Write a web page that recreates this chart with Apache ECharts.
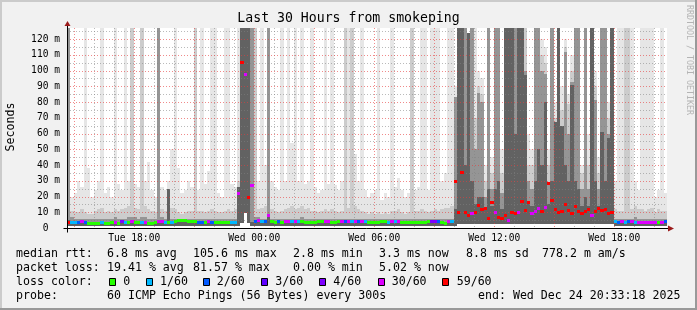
<!DOCTYPE html>
<html><head><meta charset="utf-8">
<script src="https://cdn.jsdelivr.net/npm/echarts@6/dist/echarts.min.js"></script>
<style>html,body{margin:0;padding:0;background:#f1f1f1}#c{width:697px;height:310px}</style>
</head><body><div id="c"></div>
<script>
// ---- time frame (hours since Tue 00:00) ----
const START_HOUR = 14.64;      // Tue 14:38
const SPAN_HOURS = 30;
const STEP_HOURS = 1 / 6;      // one column per 10 minutes
const Y_MAX = 127;             // ms

const X_LABEL_HOURS = [18, 24, 30, 36, 42];
const X_LABELS = ['Tue 18:00', 'Wed 00:00', 'Wed 06:00', 'Wed 12:00', 'Wed 18:00'];
const Y_LABEL_VALUES = [0, 10, 20, 30, 40, 50, 60, 70, 80, 90, 100, 110, 120];
const V_MAJOR_HOURS = [15, 18, 21, 24, 27, 30, 33, 36, 39, 42];
const V_MINOR_HOURS = [16, 17, 19, 20, 22, 23, 25, 26, 28, 29, 31, 32, 34, 35, 37, 38, 40, 41, 43, 44];
const H_MAJOR = [10, 20, 30, 40, 50, 60, 70, 80, 90, 100, 110, 120];
const H_MINOR = [5, 15, 25, 35, 45, 55, 65, 75, 85, 95, 105, 115, 125];

// ---- smoke: lower edge and four nested upper edges (ms) ----
const SMOKE_LO = [
1.2,1.2,1.2,1.2,1.2,1.2,1.2,1.2,1.2,1.2,
1.2,1.2,1.2,1.2,1.2,1.2,1.2,1.2,1.2,1.2,
1.2,1.2,1.2,1.2,1.2,1.2,1.2,1.2,1.2,1.2,
1.2,1.2,1.2,1.2,1.2,1.2,1.2,1.2,1.2,1.2,
1.2,1.2,1.2,1.2,1.2,1.2,1.2,1.2,1.2,1.2,
1.2,1.2,3,9.5,3,1.2,1.2,1.2,1.2,1.2,
1.2,1.2,1.2,1.2,1.2,1.2,1.2,1.2,1.2,1.2,
1.2,1.2,1.2,1.2,1.2,1.2,1.2,1.2,1.2,1.2,
1.2,1.2,1.2,1.2,1.2,1.2,1.2,1.2,1.2,1.2,
1.2,1.2,1.2,1.2,1.2,1.2,1.2,1.2,1.2,1.2,
1.2,1.2,1.2,1.2,1.2,1.2,1.2,1.2,1.2,1.2,
1.2,1.2,1.2,1.2,1.2,1.2,1.2,2.5,2.5,2.5,
2.5,2.5,2.5,2.5,2.5,2.5,2.5,2.5,2.5,2.5,
2.5,2.5,2.5,2.5,2.5,2.5,2.5,2.5,2.5,2.5,
2.5,2.5,2.5,2.5,2.5,2.5,2.5,2.5,2.5,2.5,
2.5,2.5,2.5,2.5,2.5,2.5,2.5,2.5,2.5,2.5,
2.5,2.5,2.5,2.5,1.2,1.2,1.2,1.2,1.2,1.2,
1.2,1.2,1.2,1.2,1.2,1.2,1.2,1.2,1.2,1.2];
const SMOKE_CORE = [
5,4,3.5,3.5,4,3.5,3.5,3,3.5,3.5,
4,3.5,3.5,3.5,4,3.5,4,3.5,3.5,4,
3.5,3.5,4,3.5,3.5,3.5,3.5,5,4,3.5,
25,3.5,4,3.5,3.5,4,3.5,3.5,4,3.5,
3.5,3.5,4,3.5,3.5,3.5,3.5,4,3.5,3.5,
3.5,26,127,127,127,4,4,4,3.5,4,
8,3.5,3.5,3.5,3.5,4,4,3.5,4,3.5,
4,3.5,3.5,3.5,3.5,3.5,3.5,4,4,3.5,
3.5,3.5,4,4,4,3.5,4,3.5,4,3.5,
3.5,3.5,3.5,3.5,3.5,3.5,3.5,4,3.5,4,
3.5,3.5,3.5,4,3.5,3.5,3.5,3.5,3.5,4,
4,3.5,3.5,3.5,4,3.5,12,127,127,40,
124,30,15,20,20,12,25,14,25,30,
12,127,127,127,60,127,127,97,15,14,
30,50,40,80,15,30,67,127,65,40,
30,91,30,25,14,20,14,127,30,14,
61,30,57,127,3.5,3.5,4,3.5,3.5,4,
3.5,3.5,4,3.5,4,4,3.5,3.5,4,3.5];
const SMOKE_INNER = [
127,7,6,6,6,6,6,5.5,6,6,
6,6,6,6,7,6,6,6,7,7,
7,6,7,7,6,6,6,127,7,6,
25,6,6,6,6,6,6,6,6,6,
6,6,6,6,6,6,6,6,6,6,
6,26,127,127,127,127,7,7,6,6,
127,6,6,6,6,6,6,6,6,6,
7,6,6,6,6,6,6,6,6,6,
6,6,6,6,6,6,6,6,6,6,
6,6,6,6,6,6,6,6,6,6,
6,6,6,6,6,6,6,6,6,6,
6,6,6,6,6,6,83,127,127,127,
124,127,50,86,80,20,127,25,127,127,
22,127,127,127,127,127,127,100,30,25,
127,127,100,98,28,127,67,127,65,112,
60,93,127,127,25,127,25,127,81,25,
127,127,60,127,6,6,6,6,6,6,
7,6,6,6,6,6,6,6,6,6];
const SMOKE_OUTER = [
127,11,10,10,12,10,9,9,11,12,
13,10,11,10,12,11,12,13,14,127,
13,12,127,14,12,11,10,127,12,11,
25,13,12,10,9,10,11,11,127,11,
11,10,11,12,11,10,10,11,12,11,
12,30,127,127,127,127,127,12,13,14,
127,12,11,10,11,12,13,14,12,13,
14,12,13,11,11,10,11,12,11,12,
11,10,11,127,13,127,14,12,11,10,
9,10,9,10,9,10,9,11,11,12,
10,9,10,127,11,11,12,11,10,11,
12,11,12,13,13,14,83,127,127,127,
124,127,70,90,85,30,127,35,127,127,
35,127,127,127,127,127,127,127,40,40,
127,127,110,105,40,127,70,127,75,115,
79,100,127,127,35,127,40,127,90,35,
127,127,70,127,12,11,11,127,127,12,
14,12,12,11,12,13,10,12,11,11];
const SMOKE_MAX = [
127,20,22,30,26,127,38,20,24,30,
127,22,26,20,127,28,24,127,30,127,
28,26,127,30,42,24,20,127,26,24,
30,50,127,38,22,24,30,26,127,24,
127,28,36,127,127,22,20,127,127,28,
26,127,127,127,127,127,127,30,127,40,
127,30,26,24,127,30,127,54,127,30,
127,28,30,127,26,22,24,127,28,127,
27,24,30,127,127,127,47,30,127,24,
20,22,24,127,18,22,20,127,26,32,
24,20,22,127,24,26,127,127,24,127,
127,127,30,35,127,127,90,127,127,127,
124,127,127,100,95,40,127,45,127,127,
50,127,127,127,127,127,127,127,60,50,
127,127,120,115,50,127,80,127,90,120,
85,110,127,127,40,127,60,127,100,45,
127,127,80,127,30,127,127,127,127,127,
30,24,127,127,127,127,20,24,127,22];

// ---- median rtt (ms) and loss class per column ----
const MEDIAN = [
4,3.8,3.6,4,4.2,3.9,3.2,3,3,3.1,
3.6,3.4,3.3,3.5,4,3.4,4.2,3.8,3.5,4.4,
3.6,3.5,3.8,4,3.4,3.3,3.5,4.2,4.6,3.9,
3.8,4,4.6,5,5,4.8,4.6,4.4,4.2,4,
4.1,3.8,4.4,4,3.8,3.6,3.6,3.5,3.7,3.8,
3.9,22,105.6,98,20,27,4.4,4.8,4.3,4.5,
8,4.2,4,4.4,4,4.4,4.5,4.2,4.6,4.3,
4.2,4,4.1,3.9,4,4.2,4.3,4.6,4.4,4.1,
4,4.2,4.5,4.4,4.6,4.3,4.5,4.4,4.6,4.2,
4,3.9,4.1,4,4.2,4.3,4.1,4.5,4.2,4.6,
4.1,4,3.9,4,4.1,3.8,4,4.1,4.2,4.5,
4.4,4.3,3.6,3.2,4.2,4.5,30,10,35.7,10,
8.3,9.5,10,14.6,12,12.7,6.3,16.5,10,7,
6.3,8,5,10,9.5,10,17,11.4,16.5,9.5,
10.8,12.7,11,13.3,28.6,17.8,12,10,11,15.2,
11.4,9.5,14,10.8,9.5,10.8,12,8.3,10.8,12.7,
11.4,12,9.5,10,4.2,4,4.3,4.1,4.4,4.2,
4,4.1,3.9,4,3.8,3.9,4,3.6,4,4.2];
const LOSS = [
6,1,1,2,5,2,0,0,0,0,
1,0,0,0,5,0,4,1,0,5,
0,0,1,5,0,0,0,5,5,1,
0,1,0,0,0,0,0,0,0,2,
2,0,5,2,0,0,0,0,0,1,
1,5,6,5,6,5,2,5,1,2,
5,0,0,2,0,5,5,1,5,1,
0,0,0,0,0,0,0,5,5,0,
0,0,5,2,5,1,5,2,5,1,
0,0,0,0,0,0,1,5,1,5,
0,0,0,0,0,0,0,0,0,4,
4,2,0,0,5,1,6,6,6,6,
6,5,6,6,6,6,6,6,5,6,
6,6,5,6,6,5,6,6,6,5,
5,5,6,5,6,6,6,6,6,6,
6,6,6,6,6,6,6,5,6,6,
6,6,6,6,1,2,5,1,2,5,
1,5,5,5,5,5,5,0,5,2];
const LOSS_COLORS = ['#26ff00', '#00b8ff', '#0059ff', '#5e00ff', '#7e00ff', '#dd00ff', '#ff0000'];
const LOSS_LABELS = ['0', '1/60', '2/60', '3/60', '4/60', '30/60', '59/60'];

const MONO = '"DejaVu Sans Mono", "Liberation Mono", monospace';

function bandSeries(top, color, z) {
  return {
    type: 'custom', z: z, silent: true,
    data: top.map((h, i) => [START_HOUR + i * STEP_HOURS, SMOKE_LO[i], h]),
    renderItem(params, api) {
      const t = api.value(0), lo = api.value(1), hi = Math.min(api.value(2), Y_MAX);
      if (!(hi > lo)) return null;
      const a = api.coord([t, hi]), b = api.coord([t + STEP_HOURS, lo]);
      const x0 = Math.round(a[0]), x1 = Math.round(b[0]);
      const y0 = Math.round(a[1]), y1 = Math.round(b[1]);
      return { type: 'rect', shape: { x: x0, y: y0, width: x1 - x0, height: y1 - y0 }, style: { fill: color } };
    }
  };
}
function vGrid(hours, color) {
  return {
    type: 'custom', z: 5, silent: true, data: hours.map(h => [h, 0]),
    renderItem(p, api) {
      const a = api.coord([api.value(0), 0]), b = api.coord([api.value(0), Y_MAX]);
      const x = Math.round(a[0]) + 0.5;
      return { type: 'line', shape: { x1: x, y1: b[1], x2: x, y2: a[1] }, style: { stroke: color, lineWidth: 1, lineDash: [1, 2] } };
    }
  };
}
function hGrid(vals, color) {
  return {
    type: 'custom', z: 5, silent: true, data: vals.map(v => [START_HOUR, v]),
    renderItem(p, api) {
      const a = api.coord([START_HOUR, api.value(1)]), b = api.coord([START_HOUR + SPAN_HOURS, api.value(1)]);
      const y = Math.round(a[1]) + 0.5;
      return { type: 'line', shape: { x1: a[0], y1: y, x2: b[0], y2: y }, style: { stroke: color, lineWidth: 1, lineDash: [1, 2] } };
    }
  };
}

const series = [
  bandSeries(SMOKE_MAX, '#e6e6e6', 1),
  bandSeries(SMOKE_OUTER, '#cccccc', 1),
  bandSeries(SMOKE_INNER, '#959595', 1),
  bandSeries(SMOKE_CORE, '#626262', 1),
  vGrid(V_MINOR_HOURS, 'rgba(130,130,130,0.55)'),
  hGrid(H_MINOR, 'rgba(130,130,130,0.55)'),
  vGrid(V_MAJOR_HOURS, 'rgba(230,60,60,0.6)'),
  hGrid(H_MAJOR, 'rgba(230,60,60,0.6)'),
  {
    type: 'custom', z: 6, silent: true,
    data: MEDIAN.map((m, i) => [START_HOUR + i * STEP_HOURS, m, LOSS[i]]),
    renderItem(params, api) {
      const t = api.value(0), m = api.value(1), l = api.value(2);
      const a = api.coord([t, m]), b = api.coord([t + STEP_HOURS, m]);
      const x0 = Math.round(a[0]), x1 = Math.round(b[0]), yc = Math.round(a[1]);
      return { type: 'rect', shape: { x: x0, y: yc - 1, width: x1 - x0, height: 3 }, style: { fill: LOSS_COLORS[l] } };
    }
  },
  {
    type: 'custom', z: 7, silent: true, data: [[START_HOUR, 0]],
    renderItem(params, api) {
      const o = api.coord([START_HOUR, 0]);
      const e = api.coord([START_HOUR + SPAN_HOURS, 0]);
      const t = api.coord([START_HOUR, Y_MAX]);
      const ox = Math.round(o[0]) + 0.5, oy = Math.round(o[1]) + 0.5;
      const ex = Math.round(e[0]), ty = Math.round(t[1]);
      return { type: 'group', children: [
        { type: 'line', shape: { x1: ox - 4, y1: oy, x2: ex + 3, y2: oy }, style: { stroke: '#000', lineWidth: 1 } },
        { type: 'line', shape: { x1: ox, y1: oy + 4, x2: ox, y2: ty - 3 }, style: { stroke: '#000', lineWidth: 1 } },
        { type: 'polygon', shape: { points: [[ex + 1, oy - 3], [ex + 7, oy], [ex + 1, oy + 3]] }, style: { fill: '#9b1b1b' } },
        { type: 'polygon', shape: { points: [[ox - 3, ty - 2], [ox, ty - 7], [ox + 3, ty - 2]] }, style: { fill: '#9b1b1b' } }
      ] };
    }
  }
];

const legendFont = '11.6px ' + MONO;
const graphics = [
  { type: 'rect', shape: { x: 0, y: 0, width: 697, height: 2 }, style: { fill: '#cbcbcb' } },
  { type: 'rect', shape: { x: 0, y: 0, width: 2, height: 310 }, style: { fill: '#cbcbcb' } },
  { type: 'rect', shape: { x: 0, y: 308, width: 697, height: 2 }, style: { fill: '#999999' } },
  { type: 'rect', shape: { x: 695, y: 0, width: 2, height: 310 }, style: { fill: '#999999' } },
  { type: 'text', x: 348.5, y: 19, style: { text: 'Last 30 Hours from smokeping', font: '13.2px ' + MONO, fill: '#000', align: 'center', verticalAlign: 'middle', textAlign: 'center', textVerticalAlign: 'middle' } },
  { type: 'text', x: 11, y: 127, rotation: Math.PI / 2, style: { text: 'Seconds', font: '11.6px ' + MONO, fill: '#000', align: 'center', verticalAlign: 'middle', textAlign: 'center', textVerticalAlign: 'middle' } },
  { type: 'text', x: 689, y: 60, rotation: -Math.PI / 2, style: { text: 'RRDTOOL / TOBI OETIKER', font: '8.3px ' + MONO, fill: '#b4b4b4', align: 'center', verticalAlign: 'middle', textAlign: 'center', textVerticalAlign: 'middle' } }
];
const legendTexts = [
  [16, 254.3, 'median rtt:'], [107, 254.3, '6.8 ms avg'], [193, 254.3, '105.6 ms max'], [293, 254.3, '2.8 ms min'],
  [379, 254.3, '3.3 ms now'], [466, 254.3, '8.8 ms sd'], [542, 254.3, '778.2 m am/s'],
  [16, 268.3, 'packet loss:'], [107, 268.3, '19.41 % avg'], [193, 268.3, '81.57 % max'], [293, 268.3, '0.00 % min'], [379, 268.3, '5.02 % now'],
  [16, 282.3, 'loss color:'],
  [16, 296.2, 'probe:'], [107, 296.2, '60 ICMP Echo Pings (56 Bytes) every 300s'], [478, 296.2, 'end: Wed Dec 24 20:33:18 2025']
];
const boxX = [109, 145.7, 203.3, 261, 319, 377.7, 441.7];
const boxLabelX = [123.3, 160, 216.7, 275.3, 333.3, 391.7, 456.7];
LOSS_LABELS.forEach((lab, i) => {
  graphics.push({ type: 'rect', shape: { x: Math.round(boxX[i]) + 0.5, y: 278.5, width: 6, height: 7 }, style: { fill: LOSS_COLORS[i], stroke: '#000', lineWidth: 1 } });
  legendTexts.push([boxLabelX[i], 282.3, lab]);
});
legendTexts.forEach(([x, y, s]) => graphics.push({ type: 'text', x: x, y: y, style: { text: s, font: legendFont, fill: '#000', align: 'left', verticalAlign: 'middle', textAlign: 'left', textVerticalAlign: 'middle' } }));

const chart = echarts.init(document.getElementById('c'), null, { renderer: 'canvas' });
chart.setOption({
  animation: false,
  backgroundColor: '#f1f1f1',
  grid: { left: 67, top: 28, width: 600, height: 200, show: true, backgroundColor: '#ffffff', borderWidth: 0 },
  xAxis: {
    type: 'value', min: START_HOUR, max: START_HOUR + SPAN_HOURS,
    axisLine: { show: false }, axisTick: { show: false }, splitLine: { show: false },
    axisLabel: {
      customValues: X_LABEL_HOURS, margin: 5, color: '#000', fontFamily: 'DejaVu Sans Mono', fontSize: 9.6,
      formatter: v => X_LABELS[X_LABEL_HOURS.indexOf(v)] || ''
    }
  },
  yAxis: {
    type: 'value', min: 0, max: Y_MAX,
    axisLine: { show: false }, axisTick: { show: false }, splitLine: { show: false },
    axisLabel: {
      customValues: Y_LABEL_VALUES, margin: 7, color: '#000', fontFamily: 'DejaVu Sans Mono', fontSize: 9.6,
      formatter: v => v === 0 ? '0  ' : v + ' m'
    }
  },
  graphic: { elements: graphics },
  series: series
});
</script></body></html>
